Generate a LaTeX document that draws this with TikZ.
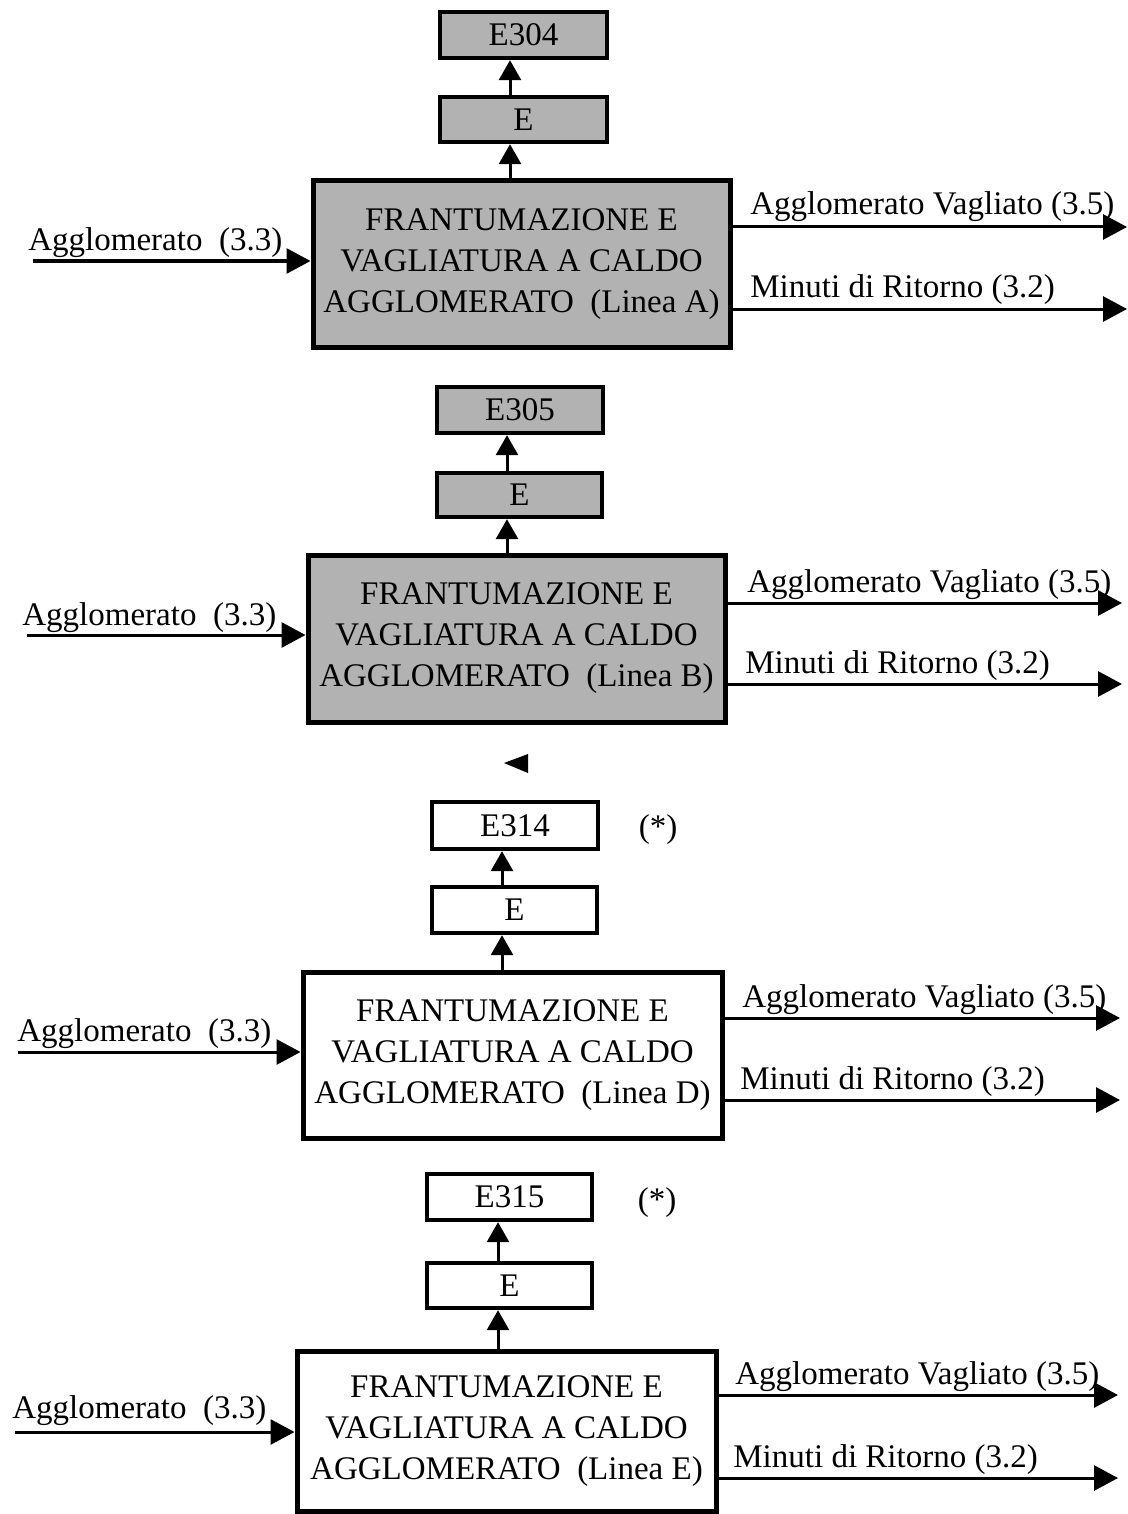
\documentclass[tikz,border=0pt]{standalone}
\usepackage{fontspec}
\setmainfont{Liberation Serif}
\usetikzlibrary{arrows.meta}
\newcommand{\boxfont}{\fontsize{16.5}{20.5}\selectfont}
\begin{document}
\begin{tikzpicture}[x=0.5pt,y=-0.5pt,
  mainbox/.style={draw, line width=2.5pt, align=center, inner sep=0pt, font=\boxfont},
  ebox/.style={draw, line width=2.2pt, inner sep=0pt, font=\boxfont},
  grayfill/.style={fill=black!30},
  flow/.style={line width=1.5pt, -{Triangle[length=12pt,width=12.5pt]}},
  upflow/.style={line width=1.5pt, -{Triangle[length=10pt,width=11pt]}},
  lbl/.style={anchor=base west, inner sep=0pt, font=\boxfont},
  note/.style={inner sep=0pt, font=\boxfont}]
\useasboundingbox (0,0) rectangle (1128,1514);

% ---------------- Block A ----------------
\node[ebox, grayfill, minimum width=83.5pt, minimum height=23pt] (eA2) at (523.5,35) {E304};
\node[ebox, grayfill, minimum width=83.5pt, minimum height=22.5pt] (eA1) at (523.5,119.5) {E};
\node[mainbox, grayfill, minimum width=208.5pt, minimum height=83pt] (mA) at (521.5,264)
  {FRANTUMAZIONE E\\VAGLIATURA A CALDO\\AGGLOMERATO~~(Linea A)};
\coordinate (xA) at (510,0);
\draw[upflow] (mA.north -| xA) -- (eA1.south -| xA);
\draw[upflow] (eA1.north -| xA) -- (eA2.south -| xA);
\coordinate (iA) at (33,261);
\draw[flow] (iA) -- (iA -| mA.west);
\node[lbl] (lAin) at (28,250) {Agglomerato~~(3.3)};
\coordinate (oA1) at (1127,227);
\coordinate (oA2) at (1127,309);
\draw[flow] (oA1 -| mA.east) -- (oA1);
\draw[flow] (oA2 -| mA.east) -- (oA2);
\node[lbl] (lA1) at (750,215) {Agglomerato Vagliato (3.5)};
\node[lbl] (lA2) at (750,297) {Minuti di Ritorno (3.2)};

% ---------------- Block B ----------------
\node[ebox, grayfill, minimum width=83pt, minimum height=23pt] (eB2) at (520,410) {E305};
\node[ebox, grayfill, minimum width=82.5pt, minimum height=22pt] (eB1) at (519.5,495) {E};
\node[mainbox, grayfill, minimum width=208.5pt, minimum height=83.5pt] (mB) at (516.5,638.5)
  {FRANTUMAZIONE E\\VAGLIATURA A CALDO\\AGGLOMERATO~~(Linea B)};
\coordinate (xB) at (507,0);
\draw[upflow] (mB.north -| xB) -- (eB1.south -| xB);
\draw[upflow] (eB1.north -| xB) -- (eB2.south -| xB);
\coordinate (iB) at (27,635);
\draw[flow] (iB) -- (iB -| mB.west);
\node[lbl] (lBin) at (22,625) {Agglomerato~~(3.3)};
\coordinate (oB1) at (1122,603);
\coordinate (oB2) at (1122,684);
\draw[flow] (oB1 -| mB.east) -- (oB1);
\draw[flow] (oB2 -| mB.east) -- (oB2);
\node[lbl] (lB1) at (747,592) {Agglomerato Vagliato (3.5)};
\node[lbl] (lB2) at (745,673) {Minuti di Ritorno (3.2)};

% stray triangle
\fill (504,763) -- (528,754) -- (528,773) -- cycle;

% ---------------- Block D ----------------
\node[ebox, minimum width=83pt, minimum height=23.5pt] (eD2) at (515,825.5) {E314};
\node[note] (sD) at (658,830) {(*)};
\node[ebox, minimum width=82.5pt, minimum height=23pt] (eD1) at (514.5,910) {E};
\node[mainbox, minimum width=209.5pt, minimum height=83pt] (mD) at (512.5,1055)
  {FRANTUMAZIONE E\\VAGLIATURA A CALDO\\AGGLOMERATO~~(Linea D)};
\coordinate (xD) at (502,0);
\draw[upflow] (mD.north -| xD) -- (eD1.south -| xD);
\draw[upflow] (eD1.north -| xD) -- (eD2.south -| xD);
\coordinate (iD) at (18,1052);
\draw[flow] (iD) -- (iD -| mD.west);
\node[lbl] (lDin) at (17,1041) {Agglomerato~~(3.3)};
\coordinate (oD1) at (1120,1018);
\coordinate (oD2) at (1120,1100);
\draw[flow] (oD1 -| mD.east) -- (oD1);
\draw[flow] (oD2 -| mD.east) -- (oD2);
\node[lbl] (lD1) at (742,1007) {Agglomerato Vagliato (3.5)};
\node[lbl] (lD2) at (740,1089) {Minuti di Ritorno (3.2)};

% ---------------- Block E ----------------
\node[ebox, minimum width=82.5pt, minimum height=23pt] (eE2) at (509.5,1197) {E315};
\node[note] (sE) at (657,1203) {(*)};
\node[ebox, minimum width=82.5pt, minimum height=22.5pt] (eE1) at (509.5,1285.5) {E};
\node[mainbox, minimum width=209.5pt, minimum height=80pt] (mE) at (506.5,1431)
  {FRANTUMAZIONE E\\VAGLIATURA A CALDO\\AGGLOMERATO~~(Linea E)};
\coordinate (xE) at (498,0);
\draw[upflow] (mE.north -| xE) -- (eE1.south -| xE);
\draw[upflow] (eE1.north -| xE) -- (eE2.south -| xE);
\coordinate (iE) at (15,1432);
\draw[flow] (iE) -- (iE -| mE.west);
\node[lbl] (lEin) at (12,1418) {Agglomerato~~(3.3)};
\coordinate (oE1) at (1118,1395);
\coordinate (oE2) at (1118,1478);
\draw[flow] (oE1 -| mE.east) -- (oE1);
\draw[flow] (oE2 -| mE.east) -- (oE2);
\node[lbl] (lE1) at (735,1384) {Agglomerato Vagliato (3.5)};
\node[lbl] (lE2) at (733,1467) {Minuti di Ritorno (3.2)};
\end{tikzpicture}
\end{document}
